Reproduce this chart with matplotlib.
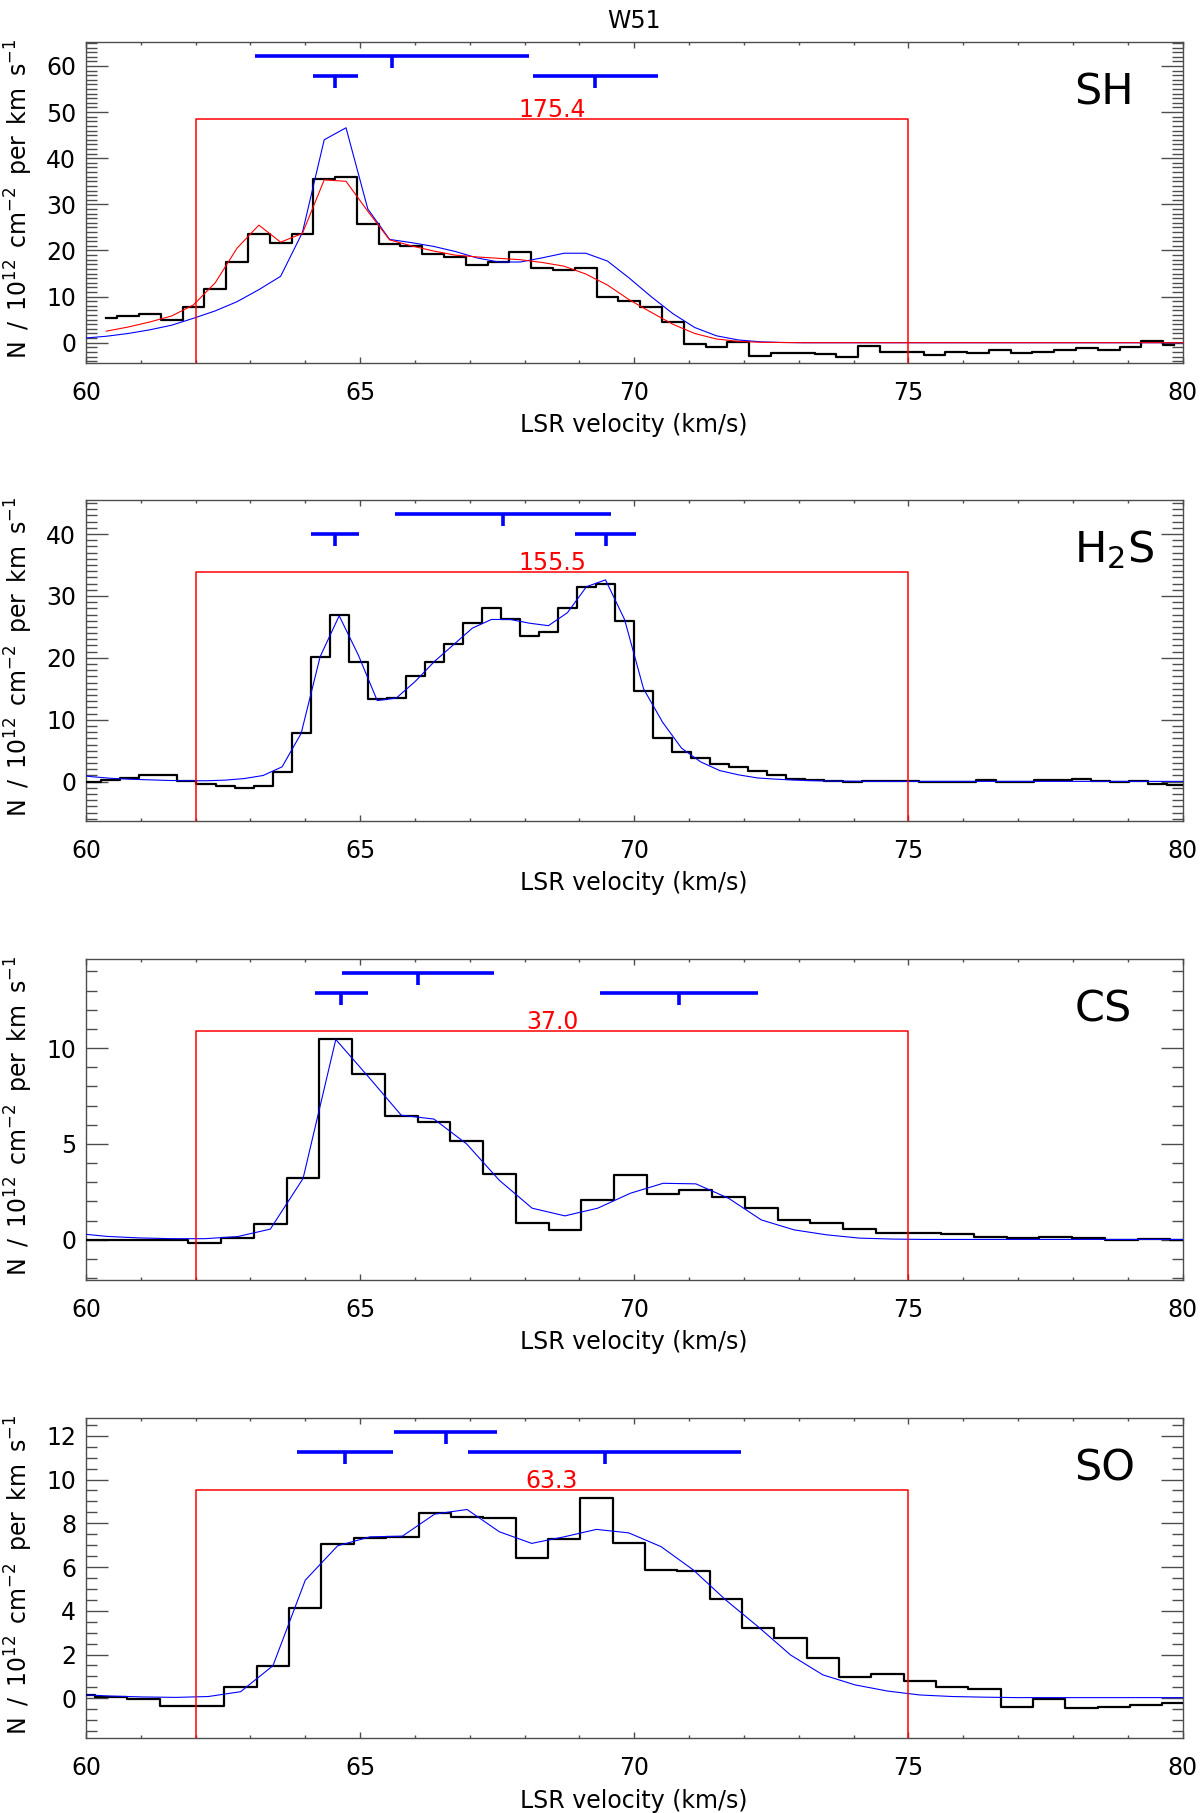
import numpy as np
import matplotlib
matplotlib.use('Agg')
import matplotlib.pyplot as plt
import matplotlib.transforms as mtransforms
from matplotlib.ticker import MultipleLocator

plt.rcParams['font.family'] = ['DejaVu Sans']
plt.rcParams['mathtext.fontset'] = 'dejavusans'

# ---- data ----
# SH: channel grid (km/s)
sh_v0 = 60.37
sh_dv = 0.3975
sh_obs = [5.4, 5.9, 6.2, 5.0, 7.7, 11.7, 17.4, 23.5, 21.6, 23.5,
          35.5, 35.9, 25.7, 21.4, 21.0, 19.2, 18.6, 16.9, 17.6, 19.6,
          16.1, 15.8, 16.2, 9.9, 9.0, 7.7, 4.5, -0.3, -0.9, 0.2,
          -2.9, -2.2, -2.2, -2.5, -3.0, -0.8, -2.0, -2.1, -2.7, -2.0,
          -2.2, -1.5, -2.25, -2.0, -1.5, -1.1, -1.6, -1.0, 0.4, -0.5]
sh_fit_red = [2.5, 3.4, 4.5, 5.8, 8.2, 13.0, 20.5, 25.5, 21.8, 23.7,
              35.3, 35.0, 28.5, 22.3, 21.0, 19.9, 19.0, 18.6, 18.3, 18.0,
              17.4, 16.6, 14.9, 12.5, 9.3, 6.6, 4.0, 2.0, 0.8, 0.3,
              0.1, 0.05, 0.0, 0.0, 0.0, 0.0, 0.0, 0.0, 0.0, 0.0,
              0.0, 0.0, 0.0, 0.0, 0.0, 0.0, 0.0, 0.0, 0.0, 0.0, 0.0]
# blue model starts one channel earlier
sh_fit_blue = [1.0, 1.4, 2.0, 2.8, 3.8, 5.3, 6.9, 8.9, 11.5, 14.4, 23.9,
               44.0, 46.6, 29.0, 22.4, 21.7, 20.9, 19.8, 18.4, 17.5, 17.5,
               18.4, 19.4, 19.4, 17.7, 14.0, 10.0, 6.3, 3.3, 1.5, 0.6,
               0.2, 0.05, 0.0, 0.0, 0.0, 0.0, 0.0, 0.0, 0.0, 0.0,
               0.0, 0.0, 0.0, 0.0, 0.0, 0.0, 0.0, 0.0, 0.0, 0.0, 0.0]

# H2S
h2s_v0 = 59.76
h2s_dv = 0.347
h2s_obs = [-0.2, -0.1, 0.3, 0.65, 1.1, 1.0, 0.15, -0.3, -0.65, -1.0,
           -0.7, 1.5, 7.9, 20.1, 26.9, 19.3, 13.4, 13.5, 17.1, 19.4,
           22.3, 25.7, 28.0, 26.2, 23.5, 24.2, 28.1, 31.4, 32.0, 25.9,
           14.7, 7.1, 4.75, 3.8, 2.8, 2.4, 1.8, 1.1, 0.4, 0.3,
           0.15, -0.05, 0.1, 0.1, 0.05, 0.0, 0.0, 0.0, 0.3, 0.0,
           -0.05, 0.3, 0.3, 0.4, 0.1, 0.0, 0.1, -0.3, -0.5, -0.5]
h2s_fit = [1.2, 0.8, 0.55, 0.4, 0.3, 0.2, 0.15, 0.15, 0.25, 0.5,
           1.0, 2.4, 7.8, 20.2, 26.8, 20.5, 13.1, 13.5, 16.2, 19.4,
           22.1, 24.8, 26.2, 26.2, 25.6, 25.2, 27.3, 31.5, 32.6, 26.2,
           15.0, 9.6, 5.4, 3.2, 1.8, 1.1, 0.6, 0.4, 0.25, 0.15,
           0.1, 0.08, 0.06, 0.05, 0.05, 0.05, 0.05, 0.05, 0.05, 0.05,
           0.05, 0.05, 0.05, 0.05, 0.05, 0.05, 0.05, 0.05, 0.05, 0.05]

# CS
cs_v0 = 59.78
cs_dv = 0.597
cs_obs = [0.0, 0.0, 0.0, 0.0, -0.14, 0.09, 0.82, 3.23, 10.47, 8.65,
          6.44, 6.16, 5.17, 3.44, 0.9, 0.49, 2.08, 3.39, 2.38, 2.6,
          2.24, 1.67, 1.04, 0.87, 0.56, 0.35, 0.38, 0.31, 0.16, 0.12,
          0.14, 0.12, -0.03, 0.05, 0.0]
cs_fit = [0.35, 0.18, 0.1, 0.06, 0.06, 0.17, 0.56, 3.2, 10.45, 8.5,
          6.5, 6.3, 5.0, 3.1, 1.65, 1.25, 1.65, 2.43, 2.95, 2.92,
          2.17, 1.04, 0.52, 0.26, 0.09, 0.04, 0.02, 0.02, 0.02, 0.02,
          0.02, 0.02, 0.02, 0.02, 0.02]

# SO
so_v0 = 59.87
so_dv = 0.59
so_obs = [0.15, 0.05, -0.05, -0.35, -0.35, 0.53, 1.48, 4.11, 7.03, 7.31,
          7.38, 8.49, 8.3, 8.22, 6.39, 7.26, 9.16, 7.11, 5.86, 5.81,
          4.52, 3.23, 2.75, 1.86, 0.99, 1.1, 0.81, 0.5, 0.41, -0.38,
          -0.02, -0.46, -0.38, -0.32, -0.23, -0.2]
so_fit = [0.17, 0.1, 0.06, 0.04, 0.08, 0.3, 1.49, 5.4, 6.97, 7.38,
          7.41, 8.42, 8.63, 7.61, 7.08, 7.38, 7.72, 7.56, 6.93, 5.86,
          4.49, 3.27, 1.98, 1.07, 0.61, 0.33, 0.15, 0.08, 0.05, 0.03,
          0.03, 0.03, 0.03, 0.03, 0.03, 0.03]

# velocity components (centre, full width, row)
sh_comp_v = [65.58, 64.55, 69.29]
sh_comp_w = [5.0, 0.82, 2.29]
sh_comp_row = [0, 1, 1]
h2s_comp_v = [67.61, 64.54, 69.48]
h2s_comp_w = [3.94, 0.87, 1.12]
h2s_comp_row = [0, 1, 1]
cs_comp_v = [66.06, 64.66, 70.82]
cs_comp_w = [2.77, 0.98, 2.88]
cs_comp_row = [0, 1, 1]
so_comp_v = [66.56, 64.73, 69.46]
so_comp_w = [1.87, 1.75, 4.97]
so_comp_row = [0, 1, 1]

# integration window and integrated columns
win_lo, win_hi = 62.0, 75.0
win_top = [48.5, 33.8, 10.9, 9.5]
win_total = ['175.4', '155.5', '37.0', '63.3']

species = ['SH', 'H$_2$S', 'CS', 'SO']
y_limits = [(-4.33, 65.2), (-6.3, 45.5), (-2.08, 14.65), (-1.83, 12.83)]
y_major = [10, 10, 5, 2]
y_minor = [1, 1, 1, 0.5]


def channels(v_start, dv, values):
    return v_start + dv * np.arange(len(values))


# ---- figure ----
fig = plt.figure(figsize=(12, 18.13), dpi=100)
left, width, height = 86 / 1200, 1096.5 / 1200, 320.7 / 1813
bottoms = [0.79995, 0.54733, 0.29415, 0.0412]

obs_list = [(sh_v0, sh_dv, sh_obs), (h2s_v0, h2s_dv, h2s_obs),
            (cs_v0, cs_dv, cs_obs), (so_v0, so_dv, so_obs)]
fit_list = [(sh_v0 - sh_dv, sh_dv, sh_fit_blue), (h2s_v0, h2s_dv, h2s_fit),
            (cs_v0, cs_dv, cs_fit), (so_v0, so_dv, so_fit)]
comp_list = [(sh_comp_v, sh_comp_w, sh_comp_row), (h2s_comp_v, h2s_comp_w, h2s_comp_row),
             (cs_comp_v, cs_comp_w, cs_comp_row), (so_comp_v, so_comp_w, so_comp_row)]

blue = '#0000ff'
fs = 17
ylab = r'N $\,$/ $\,$10$^{12}$ $\,$cm$^{-2}$ $\,$per $\,$km $\,$s$^{-1}$'

for i in range(4):
    ax = fig.add_axes([left, bottoms[i], width, height])
    trans = mtransforms.blended_transform_factory(ax.transData, ax.transAxes)
    ylo, yhi = y_limits[i]

    v0, dv, obs = obs_list[i]
    ax.step(channels(v0, dv, obs), obs, where='mid', color='k', lw=1.6, zorder=3)

    fv0, fdv, fit = fit_list[i]
    ax.plot(channels(fv0, fdv, fit), fit, color=blue, lw=0.8, zorder=4)
    if i == 0:
        ax.plot(channels(sh_v0, sh_dv, sh_fit_red), sh_fit_red, color='red', lw=0.8, zorder=5)

    # integration window
    ax.plot([win_lo, win_lo, win_hi, win_hi], [ylo - 50, win_top[i], win_top[i], ylo - 50],
            color='red', lw=1.1, zorder=5)
    ax.annotate(win_total[i], xy=((win_lo + win_hi) / 2, win_top[i]), xytext=(0, 1.5),
                textcoords='offset points', ha='center', va='baseline',
                color='red', fontsize=fs, zorder=6)

    # velocity components
    cv, cw, crow = comp_list[i]
    for c, w, r in zip(cv, cw, crow):
        yb = 0.956 if r == 0 else 0.893
        ax.plot([c - w / 2, c + w / 2], [yb, yb], transform=trans, color=blue,
                lw=2.6, solid_capstyle='butt', zorder=6)
        ax.plot([c, c], [yb, yb - 0.0374], transform=trans, color=blue,
                lw=2.6, solid_capstyle='butt', zorder=6)

    ax.text(78.03, 0.805, species[i], transform=trans, fontsize=31,
            ha='left', va='baseline')

    ax.set_xlim(60, 80)
    ax.set_ylim(ylo, yhi)
    ax.xaxis.set_major_locator(MultipleLocator(5))
    ax.xaxis.set_minor_locator(MultipleLocator(1))
    ax.yaxis.set_major_locator(MultipleLocator(y_major[i]))
    ax.yaxis.set_minor_locator(MultipleLocator(y_minor[i]))
    ax.tick_params(which='both', direction='in', top=True, right=True,
                   color='0.3', width=1.0, labelsize=fs)
    ax.tick_params(axis='x', which='major', length=4.6, pad=13)
    ax.tick_params(axis='x', which='minor', length=2.3)
    ax.tick_params(axis='y', which='major', length=15.8, pad=7)
    ax.tick_params(axis='y', which='minor', length=7.9)
    for s in ax.spines.values():
        s.set_color('0.3')
        s.set_linewidth(1.0)

    ax.set_xlabel('LSR velocity (km/s)', fontsize=fs)
    ax.xaxis.set_label_coords(0.5, -0.157)
    ax.text(-0.0616, 0.51, ylab, transform=ax.transAxes, rotation=90,
            ha='center', va='center', fontsize=fs)

fig.text(634 / 1200, 1 - 28 / 1813, 'W51', ha='center', va='baseline', fontsize=fs)

fig.savefig('out.png', dpi=100)
